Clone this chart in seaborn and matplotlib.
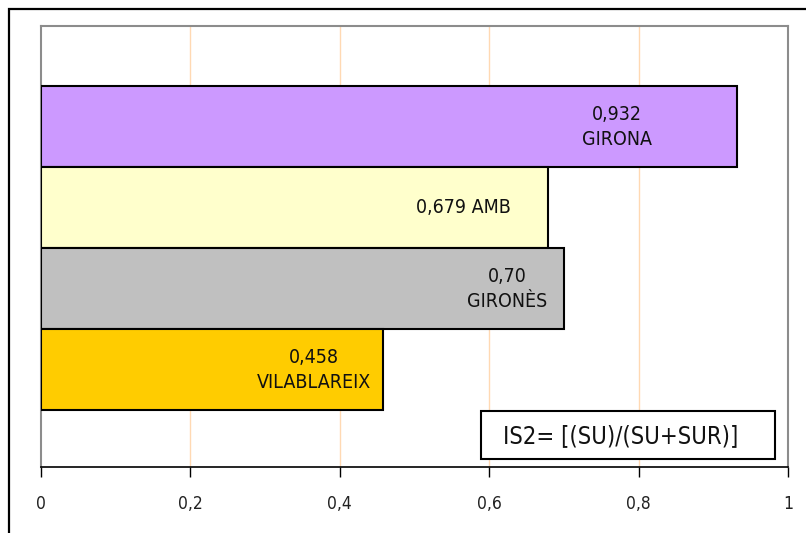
import matplotlib
matplotlib.use('Agg')
import matplotlib.pyplot as plt
import matplotlib.patches as mpatches
import seaborn as sns
import pandas as pd

# ── Data ─────────────────────────────────────────────────────
zones   = ['GIRONA', 'AMB', 'GIRONÈS', 'VILABLAREIX']
values  = [0.932, 0.679, 0.70, 0.458]
labels  = ['0,932\nGIRONA', '0,679 AMB', '0,70\nGIRONÈS', '0,458\nVILABLAREIX']
label_x = [0.771, 0.566, 0.624, 0.365]
colors  = ['#CC99FF', '#FFFFCC', '#C0C0C0', '#FFCC00']
xticks  = [0, 0.2, 0.4, 0.6, 0.8, 1]
xtick_labels = ['0', '0,2', '0,4', '0,6', '0,8', '1']
formula = 'IS2= [(SU)/(SU+SUR)]'

sns.set_style('white')
plt.rcParams['font.family'] = ['DejaVu Sans']
plt.rcParams['font.stretch'] = 'condensed'

df = pd.DataFrame({'zone': zones, 'value': values})

fig = plt.figure(figsize=(8.06, 5.33), dpi=100)
fig.patch.set_facecolor('white')
ax = fig.add_axes([41/806, 1-467/533, 747/806, 441/533])

sns.barplot(data=df, x='value', y='zone', hue='zone', palette=colors,
            saturation=1, orient='h', width=1.0, edgecolor='black',
            linewidth=1.5, legend=False, ax=ax, zorder=3)

ax.set_xlim(0, 1)
ax.set_ylim(4.2, -1.24)
ax.set_xticks(xticks)
ax.set_xticklabels(xtick_labels, fontsize=12.5, color='#222222',
                   fontstretch='condensed')
ax.set_yticks([])
ax.set_xlabel('')
ax.set_ylabel('')
ax.tick_params(axis='x', direction='out', length=7, width=1, color='black',
               pad=13, bottom=True)
for x in xticks[1:-1]:
    ax.axvline(x, color='#FFD9B3', lw=1, zorder=1)

for side in ['top', 'left', 'right']:
    ax.spines[side].set_color('#8C8C8C')
    ax.spines[side].set_linewidth(1.5)
ax.spines['bottom'].set_color('black')
ax.spines['bottom'].set_linewidth(1.2)

for i, (lx, txt) in enumerate(zip(label_x, labels)):
    ax.text(lx, i, txt, ha='center', va='center', fontsize=14,
            fontstretch='condensed', color='#111111', linespacing=1.4,
            zorder=4)

# formula box
fig.patches.append(mpatches.Rectangle((481/806, 1-459/533), 294/806, 48/533,
                   transform=fig.transFigure, facecolor='white',
                   edgecolor='black', lw=1.5, zorder=5))
fig.text(621/806, 1-436/533, formula, ha='center', va='center',
         fontsize=17, fontstretch='condensed', color='#111111', zorder=6)

# outer frame
fig.patches.append(mpatches.Rectangle((9/806, -0.02), 1.05, 1-9/533+0.02,
                   transform=fig.transFigure, facecolor='none',
                   edgecolor='black', lw=1.6, zorder=0))

fig.savefig('out.png', dpi=100, facecolor='white')
